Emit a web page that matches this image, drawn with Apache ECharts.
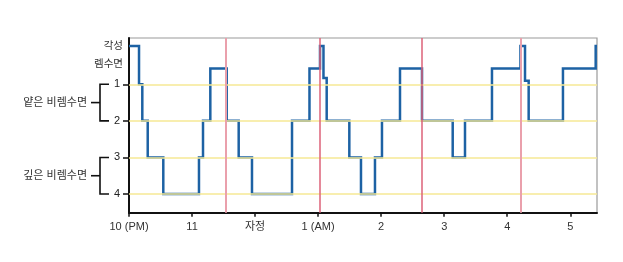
<!DOCTYPE html>
<html>
<head>
<meta charset="utf-8">
<script src="https://cdn.jsdelivr.net/npm/echarts@6/dist/echarts.min.js"></script>
<style>
html,body{margin:0;padding:0;background:#fff;}
#main{width:623px;height:262px;}
</style>
</head>
<body>
<div id="main"></div>
<script>
// Hours after 10 PM where each stage starts, and the stage held from then on
const times = [0,0.159,0.211,0.297,0.544,1.110,1.174,1.290,1.550,1.740,1.951,2.586,2.863,3.030,3.085,3.136,3.495,3.680,3.902,4.013,4.299,4.648,5.135,5.330,5.758,6.210,6.282,6.340,6.884,7.403,7.424];
const stages = [-0.05,1,2,3,4,3,2,0.57,2,3,4,2,0.57,-0.05,0.83,2,3,4,3,2,0.57,2,3,2,0.57,-0.05,0.9,2,0.57,-0.05,-0.05];
// Red markers (hours after 10 PM)
const thickMarkers = [1.545,6.215];
const thinMarkers = [3.02,4.637];
// Axis labels
const xTickValues = [0,1,2,3,4,5,6,7];
const xTickLabels = ['10 (PM)','11','자정','1 (AM)','2','3','4','5'];
const yLabelValues = [-0.05,0.45,1,2,3,4];
const yLabels = ['각성','렘수면','1','2','3','4'];
const yTickValues = [1,2,3,4];
const groups = [{name:'얕은 비렘수면',from:1,to:2},{name:'깊은 비렘수면',from:3,to:4}];

const chart = echarts.init(document.getElementById('main'));
const fontFam = '"Liberation Sans", Arial, "Noto Sans CJK KR", sans-serif';

function refSeries(items, color, width, z){
  return {
    type:'line',data:[],z:z,silent:true,
    markLine:{
      silent:true,symbol:'none',label:{show:false},animation:false,
      lineStyle:{color:color,width:width,type:'solid',opacity:1},
      emphasis:{disabled:true},
      data:items
    }
  };
}

const option = {
  animation:false,
  backgroundColor:'#fff',
  grid:{left:129,top:38,width:468,height:174.7,show:true,borderColor:'#9a9a9a',borderWidth:1.2,backgroundColor:'transparent'},
  xAxis:{
    type:'value',min:0,max:7.424,
    axisLine:{show:true,onZero:false,lineStyle:{color:'#111',width:2}},
    axisTick:{show:true,length:4,customValues:xTickValues,lineStyle:{color:'#111',width:1.5}},
    axisLabel:{customValues:xTickValues,margin:9,fontSize:11,color:'#333',fontFamily:fontFam,
      formatter:function(v){const i=xTickValues.indexOf(Math.round(v));return i>=0?xTickLabels[i]:'';}},
    splitLine:{show:false}
  },
  yAxis:{
    type:'value',inverse:true,min:-0.266,max:4.511,
    axisLine:{show:true,onZero:false,lineStyle:{color:'#111',width:2}},
    axisTick:{show:true,length:6,customValues:yTickValues,lineStyle:{color:'#111',width:1.5}},
    axisLabel:{customValues:yLabelValues,margin:6,fontSize:10.5,color:'#333',fontFamily:fontFam,
      formatter:function(v){
        let bi=0,bd=1e9;
        yLabelValues.forEach(function(x,i){const d=Math.abs(x-v);if(d<bd){bd=d;bi=i;}});
        const t=yLabels[bi];
        return bi>=2?'{n|'+t+'}':t;
      },
      rich:{n:{fontSize:11,color:'#222',fontFamily:fontFam,padding:[0,3,0,0]}}
    },
    splitLine:{show:false}
  },
  series:[
    refSeries(yTickValues.map(function(v){return {yAxis:v};}),'#f6e994',1.5,1),
    refSeries(thickMarkers.map(function(t){return {xAxis:t};}),'#eaa0ac',2,2),
    refSeries(thinMarkers.map(function(t){return {xAxis:t};}),'#dc6278',1.5,2),
    {
      type:'line',step:'end',z:3,symbol:'none',
      data:times.map(function(t,i){return [t,stages[i]];}),
      lineStyle:{color:'#1d62a4',width:2.5,join:'miter'}
    }
  ]
};
chart.setOption(option);

// bracket annotations for stage groups, positioned from the axis scale
const gfx=[];
groups.forEach(function(g){
  const y1=chart.convertToPixel({yAxisIndex:0},g.from);
  const y2=chart.convertToPixel({yAxisIndex:0},g.to);
  const ym=(y1+y2)/2;
  const st={stroke:'#111',lineWidth:1.6};
  gfx.push({type:'polyline',shape:{points:[[109,y1],[100,y1],[100,y2],[109,y2]]},style:Object.assign({fill:null},st)});
  gfx.push({type:'line',shape:{x1:91,y1:ym,x2:100,y2:ym},style:st});
  gfx.push({type:'text',x:87,y:ym,style:{text:g.name,align:'right',verticalAlign:'middle',fontSize:11,fill:'#333',fontFamily:fontFam}});
});
chart.setOption({graphic:gfx});
</script>
</body>
</html>
